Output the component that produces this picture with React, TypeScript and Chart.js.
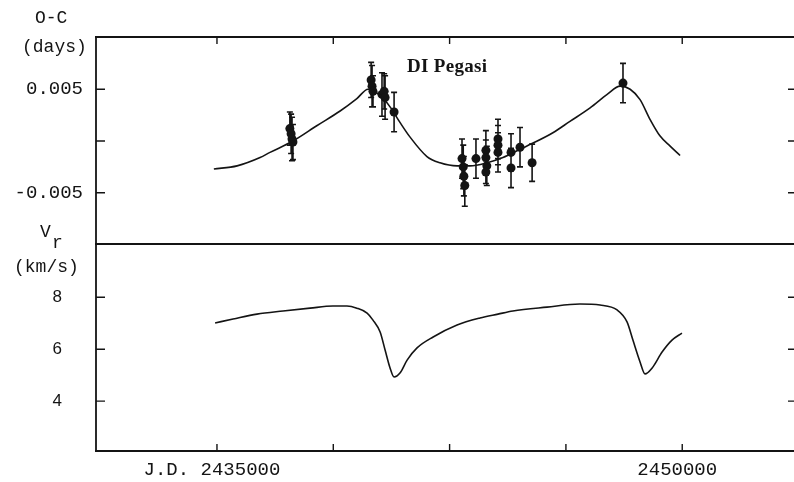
import React, { useEffect, useRef } from 'react';
import { Chart, registerables } from 'chart.js';

Chart.register(...registerables);

// ---------- data ----------
const JD_MIN = 2431100;
const JD_MAX = 2453700;
const xTickValues = [2435000, 2438750, 2442500, 2446250, 2450000];
const xTickLabels = ['J.D. 2435000', '', '', '', '2450000'];

const ocRange = [-0.00995, 0.01005];
const ocTickValues = [-0.005, 0, 0.005];
const ocTickLabels = ['-0.005', '', '0.005'];

const vrRange = [2.08, 10.05];
const vrTickValues = [4, 6, 8];
const vrTickLabels = ['4', '6', '8'];

// O-C model curve
const ocModelJD = [
  2434900, 2435650, 2436390, 2436710, 2437450, 2438230, 2438970, 2439510, 2439870,
  2440260, 2440580, 2440900, 2441220, 2441770, 2442190, 2442740, 2443160, 2443710,
  2444220, 2444770, 2445190, 2445830, 2446380, 2447030, 2447580, 2448000, 2448320,
  2448640, 2448960, 2449280, 2449610, 2449930,
];
const ocModel = [
  -0.0027, -0.0024, -0.0016, -0.0011, 0.0000, 0.0015, 0.0029, 0.0041, 0.0050,
  0.0044, 0.0033, 0.0018, 0.0004, -0.0015, -0.0021, -0.0024, -0.0024, -0.0021,
  -0.0016, -0.0008, -0.0002, 0.0008, 0.0019, 0.0032, 0.0045, 0.0053, 0.0050,
  0.0040, 0.0021, 0.0005, -0.0005, -0.0014,
];

// O-C observed timings with error bars
const ocObsJD = [
  2437350, 2437390, 2437420, 2437450,
  2439970, 2440000, 2440030, 2440320, 2440390, 2440420, 2440710,
  2442900, 2442940, 2442960, 2442990, 2443350,
  2443670, 2443670, 2443700, 2443670,
  2444060, 2444060, 2444060, 2444480, 2444480, 2444770, 2445160,
  2448090,
];
const ocObs = [
  0.0012, 0.0007, 0.0002, -0.0001,
  0.0059, 0.0053, 0.0048, 0.0045, 0.0048, 0.0042, 0.0028,
  -0.0017, -0.0025, -0.0034, -0.0043, -0.0017,
  -0.0009, -0.0016, -0.0024, -0.0030,
  0.0002, -0.0004, -0.0011, -0.0011, -0.0026, -0.0006, -0.0021,
  0.0056,
];
const ocObsErr = [
  0.0016, 0.0019, 0.0021, 0.0017,
  0.0017, 0.0020, 0.0015, 0.0021, 0.0017, 0.0021, 0.0019,
  0.0019, 0.0021, 0.0019, 0.0020, 0.0019,
  0.0019, 0.0017, 0.0019, 0.0011,
  0.0019, 0.0019, 0.0019, 0.0018, 0.0019, 0.0019, 0.0018,
  0.0019,
];

// radial velocity model curve
const vrModelJD = [
  2434940, 2435520, 2436290, 2437130, 2438000, 2438740, 2439190, 2439510, 2439840,
  2440030, 2440260, 2440420, 2440580, 2440710, 2440900, 2441130, 2441450, 2441970,
  2442740, 2443480, 2444060, 2444540, 2445640, 2446700, 2447350, 2447900, 2448220,
  2448410, 2448640, 2448800, 2449030, 2449350, 2449670, 2449990,
];
const vrModel = [
  7.01, 7.16, 7.35, 7.47, 7.58, 7.66, 7.66, 7.58, 7.39,
  7.12, 6.66, 5.97, 5.28, 4.93, 5.08, 5.58, 6.05, 6.47,
  6.93, 7.20, 7.35, 7.47, 7.62, 7.74, 7.70, 7.51, 7.05,
  6.35, 5.51, 5.05, 5.28, 5.89, 6.35, 6.62,
];

// ---------- styling ----------
const INK = '#141414';
const W = 810;
const H = 482;
const PANEL_TOP = 37;
const PANEL_MID = 244;
const PANEL_BOTTOM = 451;
const LEFT = 96;
const RIGHT = 797;

function makeFrame(id: string, withTop: boolean, xEdge: 'top' | 'bottom', yTicks: number[]) {
  return {
    id,
    afterDraw(chart: any) {
      const { ctx, chartArea } = chart;
      const { left, right, top, bottom } = chartArea;
      const xs = chart.scales.x;
      const ys = chart.scales.y;
      ctx.save();
      ctx.strokeStyle = INK;
      ctx.lineWidth = 1.8;
      ctx.beginPath();
      ctx.moveTo(left, top);
      ctx.lineTo(left, bottom);
      ctx.moveTo(left - 1, bottom);
      ctx.lineTo(right + 1, bottom);
      ctx.moveTo(right, top);
      ctx.lineTo(right, bottom);
      if (withTop) {
        ctx.moveTo(left - 1, top);
        ctx.lineTo(right + 1, top);
      }
      ctx.stroke();
      ctx.lineWidth = 1.4;
      ctx.beginPath();
      for (const v of yTicks) {
        const py = ys.getPixelForValue(v);
        ctx.moveTo(left, py);
        ctx.lineTo(left + 9, py);
        ctx.moveTo(right - 9, py);
        ctx.lineTo(right, py);
      }
      for (const v of xTickValues) {
        const px = xs.getPixelForValue(v);
        if (xEdge === 'top') {
          ctx.moveTo(px, top);
          ctx.lineTo(px, top + 7);
        } else {
          ctx.moveTo(px, bottom);
          ctx.lineTo(px, bottom - 7);
        }
      }
      ctx.stroke();
      ctx.restore();
    },
  };
}

const errorBars = {
  id: 'errorBars',
  beforeDatasetsDraw(chart: any) {
    const { ctx } = chart;
    const xs = chart.scales.x;
    const ys = chart.scales.y;
    ctx.save();
    ctx.strokeStyle = INK;
    ctx.lineWidth = 1.6;
    ctx.beginPath();
    ocObsJD.forEach((jd, i) => {
      const px = xs.getPixelForValue(jd);
      const y1 = ys.getPixelForValue(ocObs[i] + ocObsErr[i]);
      const y2 = ys.getPixelForValue(ocObs[i] - ocObsErr[i]);
      ctx.moveTo(px, y1);
      ctx.lineTo(px, y2);
      ctx.moveTo(px - 3, y1);
      ctx.lineTo(px + 3, y1);
      ctx.moveTo(px - 3, y2);
      ctx.lineTo(px + 3, y2);
    });
    ctx.stroke();
    ctx.restore();
  },
};

function fixedTicks(values: number[]) {
  return (scale: any) => {
    scale.ticks = values.map((v) => ({ value: v }));
  };
}

function fixYAxis(s: any) {
  s.width = LEFT;
  s.paddingTop = 0;
  s.paddingBottom = 0;
}

export default function App() {
  const refA = useRef<HTMLCanvasElement>(null);
  const refB = useRef<HTMLCanvasElement>(null);

  useEffect(() => {
    const top = new Chart(refA.current as HTMLCanvasElement, {
      type: 'line',
      data: {
        datasets: [
          {
            data: ocModelJD.map((x, i) => ({ x, y: ocModel[i] })),
            borderColor: INK,
            borderWidth: 1.6,
            pointRadius: 0,
            fill: false,
            cubicInterpolationMode: 'monotone',
          },
          {
            data: ocObsJD.map((x, i) => ({ x, y: ocObs[i] })),
            showLine: false,
            pointRadius: 4.5,
            pointBackgroundColor: INK,
            pointBorderColor: INK,
            pointBorderWidth: 0,
          },
        ],
      },
      options: {
        responsive: false,
        animation: false,
        devicePixelRatio: 1,
        events: [],
        layout: { padding: { top: PANEL_TOP, bottom: H - PANEL_MID, left: 0, right: W - RIGHT } },
        plugins: { legend: { display: false }, tooltip: { enabled: false } },
        scales: {
          x: { type: 'linear', display: false, min: JD_MIN, max: JD_MAX },
          y: {
            type: 'linear',
            min: ocRange[0],
            max: ocRange[1],
            afterBuildTicks: fixedTicks(ocTickValues),
            afterFit: fixYAxis,
            grid: { display: false, drawTicks: false },
            border: { display: false },
            ticks: {
              padding: 13,
              color: INK,
              font: { family: "'Liberation Mono', monospace", size: 19 },
              callback: (v: any) => ocTickLabels[ocTickValues.indexOf(Number(v))] ?? '',
            },
          },
        },
      },
      plugins: [errorBars, makeFrame('frameTop', true, 'top', ocTickValues)],
    } as any);

    const bottom = new Chart(refB.current as HTMLCanvasElement, {
      type: 'line',
      data: {
        datasets: [
          {
            data: vrModelJD.map((x, i) => ({ x, y: vrModel[i] })),
            borderColor: INK,
            borderWidth: 1.6,
            pointRadius: 0,
            fill: false,
            cubicInterpolationMode: 'monotone',
          },
        ],
      },
      options: {
        responsive: false,
        animation: false,
        devicePixelRatio: 1,
        events: [],
        layout: { padding: { top: PANEL_MID, bottom: 0, left: 0, right: W - RIGHT } },
        plugins: { legend: { display: false }, tooltip: { enabled: false } },
        scales: {
          x: {
            type: 'linear',
            min: JD_MIN,
            max: JD_MAX,
            afterBuildTicks: fixedTicks(xTickValues),
            afterFit: (s: any) => { s.height = H - PANEL_BOTTOM; },
            grid: { display: false, drawTicks: false },
            border: { display: false },
            ticks: {
              autoSkip: false,
              maxRotation: 0,
              padding: 8,
              labelOffset: -5,
              color: INK,
              font: { family: "'Liberation Mono', monospace", size: 19 },
              callback: (v: any) => xTickLabels[xTickValues.indexOf(Number(v))] ?? '',
            },
          },
          y: {
            type: 'linear',
            min: vrRange[0],
            max: vrRange[1],
            afterBuildTicks: fixedTicks(vrTickValues),
            afterFit: fixYAxis,
            grid: { display: false, drawTicks: false },
            border: { display: false },
            ticks: {
              padding: 34,
              color: INK,
              font: { family: "'Liberation Sans', sans-serif", size: 17 },
              callback: (v: any) => vrTickLabels[vrTickValues.indexOf(Number(v))] ?? '',
            },
          },
        },
      },
      plugins: [makeFrame('frameBottom', false, 'bottom', vrTickValues)],
    } as any);

    return () => {
      top.destroy();
      bottom.destroy();
    };
  }, []);

  const mono: React.CSSProperties = {
    position: 'absolute',
    fontFamily: "'Liberation Mono', monospace",
    fontSize: 18,
    lineHeight: '18px',
    color: INK,
    whiteSpace: 'nowrap',
  };

  return (
    <div style={{ position: 'fixed', left: 0, top: 0, width: 794, height: 482, overflow: 'hidden', background: '#fff' }}>
      <canvas ref={refA} width={W} height={H} style={{ position: 'absolute', left: 0, top: 0, width: W, height: H }} />
      <canvas ref={refB} width={W} height={H} style={{ position: 'absolute', left: 0, top: 0, width: W, height: H }} />
      <div style={{ ...mono, left: 35, top: 9 }}>O-C</div>
      <div style={{ ...mono, left: 22, top: 38 }}>(days)</div>
      <div style={{ ...mono, left: 40, top: 223 }}>V</div>
      <div style={{ ...mono, left: 52, top: 234 }}>r</div>
      <div style={{ ...mono, left: 14, top: 258 }}>(km/s)</div>
      <div
        style={{
          position: 'absolute',
          left: 407,
          top: 56,
          fontFamily: "'Liberation Serif', serif",
          fontWeight: 'bold',
          fontSize: 19,
          lineHeight: '19px',
          color: INK,
          whiteSpace: 'nowrap',
          letterSpacing: '0.3px',
        }}
      >
        DI Pegasi
      </div>
    </div>
  );
}
